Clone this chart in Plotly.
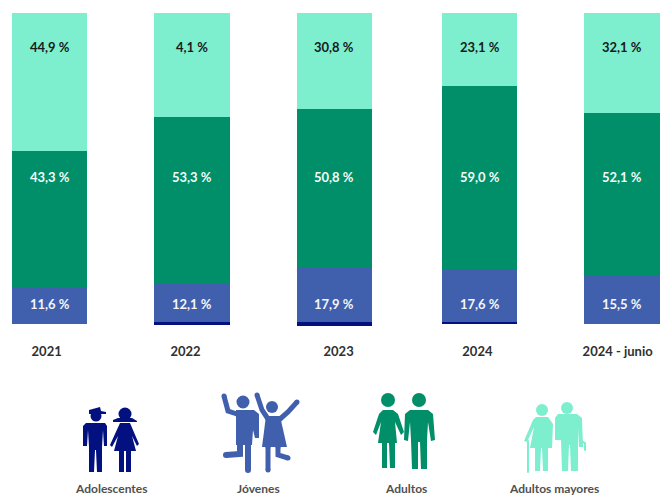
import plotly.graph_objects as go

W, H = 661, 497
T, B = 13, 335

periods = ["2021", "2022", "2023", "2024", "2024 - junio"]
bar_pos = [0, 0.995, 1.99, 3.005, 4]
tick_pos = [-0.02, 0.95, 2.02, 2.99, 3.97]

mayores = [44.2, 33.4, 30.8, 23.3, 32.1]
adultos = [43.6, 53.6, 50.8, 59.0, 52.1]
jovenes = [11.9, 12.1, 17.4, 16.6, 15.5]
adolescentes = [0.0, 0.8, 1.2, 0.7, 0.0]

mayores_lbl = ["44,9 %", "4,1 %", "30,8 %", "23,1 %", "32,1 %"]
adultos_lbl = ["43,3 %", "53,3 %", "50,8 %", "59,0 %", "52,1 %"]
jovenes_lbl = ["11,6 %", "12,1 %", "17,9 %", "17,6 %", "15,5 %"]

C_LIGHT, C_GREEN, C_BLUE, C_DARK = "#7DEFCF", "#008F68", "#4060AD", "#03107F"
FONT = "Lato"

fig = go.Figure()
for name, vals, col in [("Adultos mayores", mayores, C_LIGHT), ("Adultos", adultos, C_GREEN),
                        ("Jóvenes", jovenes, C_BLUE), ("Adolescentes", adolescentes, C_DARK)]:
    fig.add_bar(x=bar_pos, y=vals, name=name, marker=dict(color=col, line_width=0), width=0.528,
                hoverinfo="skip")

annotations = []
for labels, py, col in [(mayores_lbl, 47, "#1a1a1a"), (adultos_lbl, 177, "#F4FBF8"), (jovenes_lbl, 304, "#F4F6FB")]:
    for xv, t in zip(bar_pos, labels):
        annotations.append(dict(x=xv, y=(py - T) / 3.12, xref="x", yref="y", text=f"<b>{t}</b>", showarrow=False,
                                xanchor="center", yanchor="middle", font=dict(family=FONT, size=13, color=col)))

for t, px, py in [("Adolescentes", 111, 488.5), ("Jóvenes", 258, 488.5), ("Adultos", 406, 488), ("Adultos mayores", 554, 488)]:
    annotations.append(dict(x=px / W, y=(B - py) / (B - T), xref="paper", yref="paper", text=f"<b>{t}</b>",
                            showarrow=False, xanchor="center", yanchor="middle", borderpad=0,
                            font=dict(family=FONT, size=12, color="#505050")))

def X(p): return p / W
def Y(p): return (B - p) / (B - T)

shapes = []
def poly(pts, col):
    d = "M " + " L ".join(f"{X(a):.5f},{Y(b):.5f}" for a, b in pts) + " Z"
    shapes.append(dict(type="path", path=d, xref="paper", yref="paper", fillcolor=col, line=dict(width=0), layer="above"))
def circle(cx, cy, r, col):
    shapes.append(dict(type="circle", xref="paper", yref="paper", x0=X(cx - r), x1=X(cx + r), y0=Y(cy + r), y1=Y(cy - r),
                       fillcolor=col, line=dict(width=0), layer="above"))
def stroke(pts, col, w):
    d = "M " + " L ".join(f"{X(a):.5f},{Y(b):.5f}" for a, b in pts)
    shapes.append(dict(type="path", path=d, xref="paper", yref="paper", line=dict(color=col, width=w), layer="above"))
    for a, b in (pts[0], pts[-1]):
        circle(a, b, w / 2, col)

# Adolescentes
c = C_DARK
circle(96, 416, 5.5, c); poly([(89, 410), (100, 407), (101, 411), (106, 412), (106, 414), (89, 414)], c)
poly([(86, 423), (105, 423), (107, 426), (107, 446), (104, 446), (103, 430), (102, 447), (102, 472), (97, 472), (96, 450), (95, 450), (94, 472), (89, 472), (89, 447), (88, 430), (87, 446), (83, 446), (83, 426)], c)
circle(125, 414, 6.5, c); poly([(113, 420), (118, 418), (132, 418), (137, 421), (137, 422), (113, 422)], c)
poly([(120, 423), (130, 423), (139, 444), (137, 446), (132, 436), (136, 451), (131, 451), (131, 472), (126, 472), (126, 451), (124, 451), (124, 472), (119, 472), (119, 451), (114, 451), (118, 436), (112, 447), (110, 445)], c)

# Jóvenes
c = C_BLUE
circle(243, 402, 6.5, c)
stroke([(237, 414), (228, 411), (224, 396)], c, 5)
poly([(236, 410), (254, 410), (259, 414), (259, 438), (255, 438), (253, 430), (252, 445), (236, 445)], c)
stroke([(240, 444), (240, 454), (226, 455)], c, 6)
stroke([(248, 444), (248, 470)], c, 6)
circle(272, 407, 6, c)
stroke([(268, 419), (262, 410), (257, 395)], c, 5)
stroke([(280, 419), (288, 412), (297, 402)], c, 5)
poly([(266, 416), (280, 416), (287, 447), (262, 447)], c)
stroke([(268, 447), (268, 470)], c, 5)
stroke([(278, 447), (278, 455), (288, 458)], c, 5)

# Adultos
c = C_GREEN
circle(388, 400, 7, c)
poly([(383, 410), (393, 410), (398, 414), (404, 432), (401, 435), (395, 422), (397, 443), (395, 443), (395, 468), (390, 468), (389, 443), (387, 443), (387, 468), (382, 468), (382, 443), (378, 443), (381, 422), (376, 435), (373, 432), (379, 414)], c)
circle(419, 400, 7, c)
poly([(410, 410), (428, 410), (433, 414), (435, 440), (431, 441), (428, 422), (427, 440), (427, 469), (421, 469), (420, 442), (418, 442), (418, 469), (412, 469), (411, 440), (410, 422), (408, 441), (404, 440), (405, 414)], c)

# Adultos mayores
c = C_LIGHT
circle(542, 410, 6, c)
poly([(536, 417), (548, 417), (553, 424), (552, 448), (548, 448), (548, 471), (543, 471), (542, 448), (541, 448), (540, 471), (535, 471), (535, 448), (530, 448), (534, 427), (527, 442), (524, 441), (533, 420)], c)
stroke([(528, 441), (528, 472)], c, 2)
circle(567, 408, 6, c)
poly([(558, 414), (577, 414), (582, 418), (583, 447), (579, 447), (578, 428), (578, 471), (571, 471), (570, 445), (569, 445), (568, 471), (562, 471), (561, 440), (555, 440), (555, 418)], c)
stroke([(581, 441), (585, 443), (585, 450)], c, 2)

fig.update_layout(
    barmode="stack", width=W, height=H, showlegend=False, bargap=0,
    margin=dict(l=0, r=0, t=T, b=H - B, autoexpand=False),
    paper_bgcolor="white", plot_bgcolor="white",
    font=dict(family=FONT),
    annotations=annotations, shapes=shapes,
    xaxis=dict(range=[-0.346, 4.273], tickmode="array", tickvals=tick_pos, ticktext=[f"<b>{p}</b>" for p in periods],
               tickfont=dict(family=FONT, size=13, color="#303030"), showgrid=False, zeroline=False, showline=False,
               ticks="outside", ticklen=4, tickcolor="rgba(0,0,0,0)"),
    yaxis=dict(range=[(B - T) / 3.12, 0], visible=False),
)
fig.write_html("out.html", config={"displayModeBar": False},
               post_script="document.body.style.margin='0';document.documentElement.style.overflow='hidden';")
